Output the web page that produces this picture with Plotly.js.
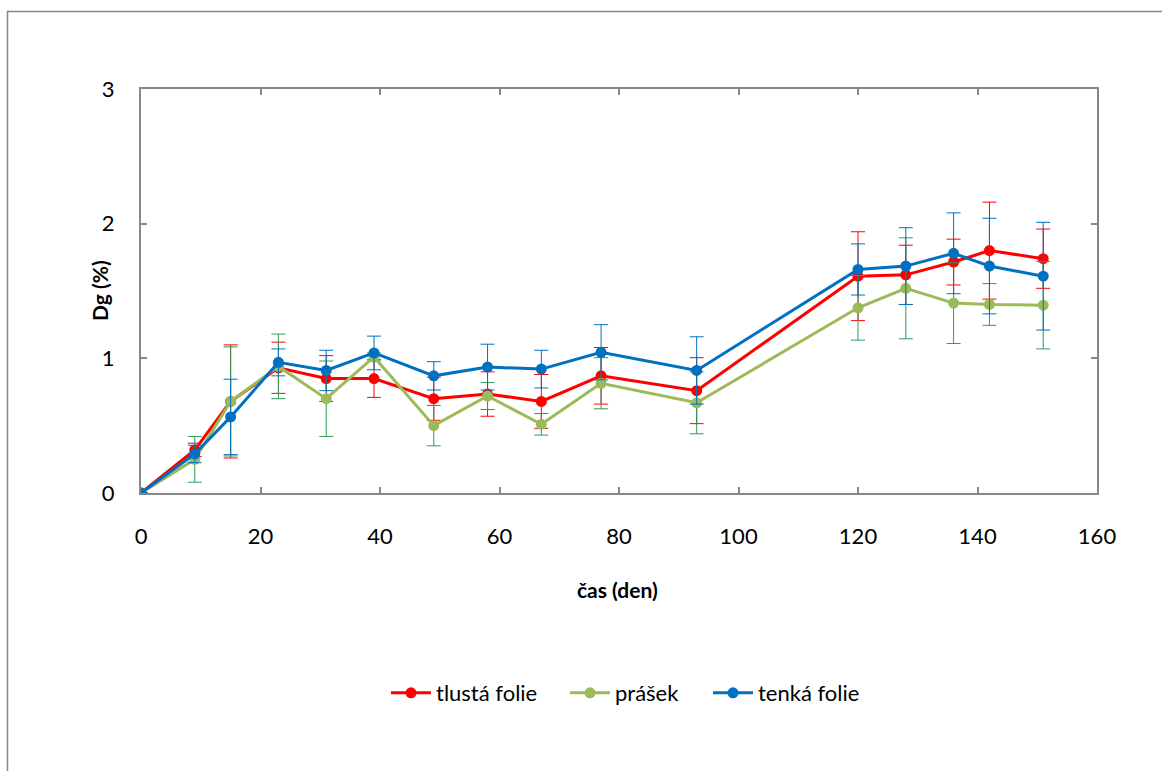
<!DOCTYPE html>
<html>
<head>
<meta charset="utf-8">
<script src="https://cdn.plot.ly/plotly-3.0.1.min.js"></script>
<style>html,body{margin:0;padding:0;background:#fff;}#chart{width:1162px;height:771px;}</style>
</head>
<body>
<div id="chart"></div>
<script>
const days = [0, 9, 15, 23, 31, 39, 49, 58, 67, 77, 93, 120, 128, 136, 142, 151];

const tlustaFolie    = [0, 0.32, 0.68, 0.93, 0.85, 0.85, 0.70, 0.735, 0.68, 0.87, 0.76, 1.61, 1.62, 1.715, 1.80, 1.74];
const tlustaFolieErr = [0, 0.05, 0.42, 0.19, 0.17, 0.14, 0.16, 0.165, 0.20, 0.21, 0.245, 0.33, 0.22, 0.17, 0.36, 0.22];

const prasek    = [0, 0.25, 0.68, 0.94, 0.70, 1.01, 0.50, 0.72, 0.51, 0.815, 0.67, 1.375, 1.52, 1.41, 1.40, 1.395];
const prasekErr = [0, 0.17, 0.405, 0.24, 0.28, 0.03, 0.15, 0.10, 0.08, 0.19, 0.23, 0.24, 0.375, 0.30, 0.155, 0.325];

const tenkaFolie    = [0, 0.29, 0.565, 0.97, 0.91, 1.04, 0.87, 0.935, 0.92, 1.045, 0.91, 1.66, 1.685, 1.78, 1.685, 1.61];
const tenkaFolieErr = [0, 0.065, 0.28, 0.10, 0.15, 0.125, 0.105, 0.17, 0.14, 0.205, 0.25, 0.19, 0.285, 0.30, 0.355, 0.40];

const seriesNames = ["tlustá folie", "prášek", "tenká folie"];
const xTickVals = [0, 20, 40, 60, 80, 100, 120, 140, 160];
const yTickVals = [0, 1, 2, 3];
const xTitle = "čas (den)";
const yTitle = "Dg (%)";

function trace(name, y, err, color, errColor, legendId) {
  return {
    x: days, y: y, name: name, type: 'scatter', mode: 'lines+markers',
    legend: legendId,
    line: {color: color, width: 3},
    marker: {color: color, size: 11},
    error_y: {type: 'data', array: err, visible: true, color: errColor, thickness: 1, width: 7}
  };
}

const data = [
  trace(seriesNames[0], tlustaFolie, tlustaFolieErr, '#FF0000', '#FF0000', 'legend'),
  trace(seriesNames[1], prasek, prasekErr, '#9BBB59', '#2E9B5A', 'legend2'),
  trace(seriesNames[2], tenkaFolie, tenkaFolieErr, '#0070C0', '#0070C0', 'legend3')
];

const fontFam = 'Lato, "Open Sans", sans-serif';
const axisColor = '#878787';
const W = 956, H = 404, L = 141, T = 89;
const px = (p) => (p - L) / W;
const py = (p) => (T + H - p) / H;

function leg(xPix) {
  return {orientation: 'h', x: px(xPix), xanchor: 'left', y: py(693), yanchor: 'middle',
          font: {family: fontFam, size: 22, color: '#000'}, bgcolor: 'rgba(0,0,0,0)', itemwidth: 40};
}

const layout = {
  width: 1162, height: 771,
  margin: {l: L, r: 1162 - L - W, t: T, b: 771 - T - H, pad: 0},
  paper_bgcolor: '#fff', plot_bgcolor: '#fff',
  font: {family: fontFam, size: 22, color: '#000'},
  showlegend: true,
  legend: leg(386),
  legend2: leg(565),
  legend3: leg(708),
  xaxis: {
    range: [0, 160], tickvals: xTickVals, ticktext: xTickVals.map(String),
    showgrid: false, zeroline: false, showline: true, linecolor: axisColor, linewidth: 2,
    ticks: 'inside', ticklen: 6, tickcolor: axisColor, tickwidth: 2, mirror: 'ticks',
    ticklabelstandoff: 23, tickfont: {family: fontFam, size: 22}
  },
  yaxis: {
    range: [0, 3], tickvals: yTickVals, ticktext: yTickVals.map(String),
    showgrid: false, zeroline: false, showline: true, linecolor: axisColor, linewidth: 2,
    ticks: 'inside', ticklen: 6, tickcolor: axisColor, tickwidth: 2, mirror: 'ticks',
    ticklabelstandoff: 20, tickfont: {family: fontFam, size: 22}
  },
  annotations: [
    {text: '<b>' + xTitle + '</b>', xref: 'paper', yref: 'paper', x: px(617), y: py(589),
     xanchor: 'center', yanchor: 'middle', showarrow: false, font: {family: fontFam, size: 21}},
    {text: '<b>' + yTitle + '</b>', xref: 'paper', yref: 'paper', x: px(99), y: py(291),
     xanchor: 'center', yanchor: 'middle', textangle: -90, showarrow: false, font: {family: fontFam, size: 21}}
  ],
  shapes: [{
    type: 'rect', xref: 'paper', yref: 'paper', layer: 'below',
    x0: px(7.5), x1: px(1175), y0: py(790), y1: py(11.5),
    line: {color: '#878787', width: 1.5}, fillcolor: 'rgba(0,0,0,0)'
  }]
};

Plotly.newPlot('chart', data, layout, {displayModeBar: false, staticPlot: true});
</script>
</body>
</html>
